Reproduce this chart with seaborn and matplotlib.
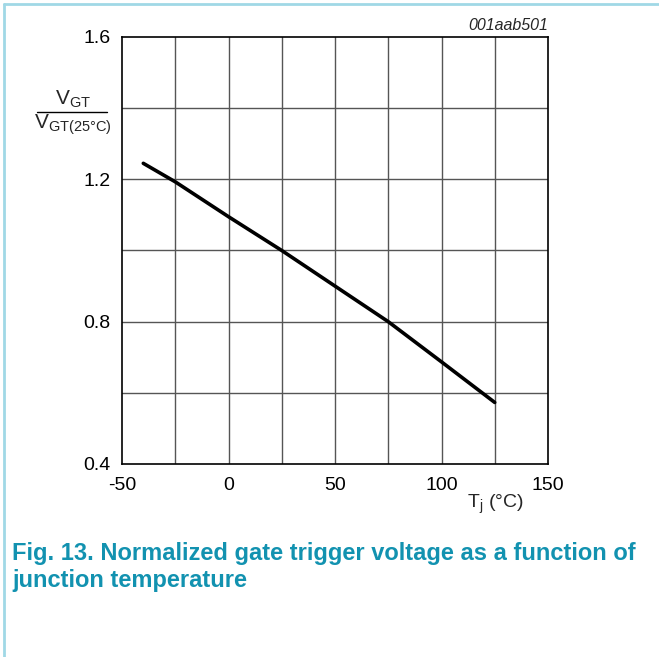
import matplotlib
matplotlib.use("Agg")
import matplotlib.pyplot as plt
import seaborn as sns
import pandas as pd
from matplotlib.lines import Line2D

# Data
tj = [-40, -25, 0, 25, 50, 75, 100, 125]
vgt_ratio = [1.245, 1.193, 1.095, 1.0, 0.9, 0.8, 0.687, 0.573]
x_ticks = [-50, 0, 50, 100, 150]
y_ticks = [0.4, 0.8, 1.2, 1.6]
x_grid = [-50, -25, 0, 25, 50, 75, 100, 125, 150]
y_grid = [0.4, 0.6, 0.8, 1.0, 1.2, 1.4, 1.6]

sns.set_theme(style="white")
plt.rcParams['font.family'] = ['Liberation Sans', 'DejaVu Sans']
plt.rcParams['mathtext.fontset'] = 'custom'
plt.rcParams['mathtext.rm'] = 'Liberation Sans'

df = pd.DataFrame({"Tj": tj, "ratio": vgt_ratio})

fig = plt.figure(figsize=(6.59, 6.57), dpi=100)
ax = fig.add_axes([122/659, 1-464/657, 426/659, 427/657])

for gx in x_grid[1:-1]:
    ax.axvline(gx, color="#555555", lw=1.0, zorder=1)
for gy in y_grid[1:-1]:
    ax.axhline(gy, color="#555555", lw=1.0, zorder=1)

sns.lineplot(data=df, x="Tj", y="ratio", ax=ax, color="black", lw=2.6, zorder=3)

ax.set_xlim(-50, 150)
ax.set_ylim(0.4, 1.6)
ax.set_xticks(x_ticks)
ax.set_yticks(y_ticks)
ax.set_xticklabels([str(v) for v in x_ticks])
ax.set_yticklabels([f"{v:.1f}" for v in y_ticks])
ax.tick_params(axis="both", length=0, labelsize=14, colors="black")
ax.tick_params(axis="x", pad=9)
ax.tick_params(axis="y", pad=8.5)
ax.set_xlabel("")
ax.set_ylabel("")
for s in ax.spines.values():
    s.set_visible(True)
    s.set_color("black")
    s.set_linewidth(1.2)

# y-axis label as fraction
fig.text(73/659, 1-99/657, r"V$_{\mathregular{GT}}$", ha="center", va="center", fontsize=15)
fig.text(73/659, 1-125/657, r"V$_{\mathregular{GT(25°C)}}$", ha="center", va="center", fontsize=15)
fig.add_artist(Line2D([37/659, 107/659], [1-112/657, 1-112/657], color="black", lw=1.0))

# x-axis label
fig.text(495/659, 1-504/657, r"T$_{\mathregular{j}}$ (°C)", ha="center", va="center", fontsize=14)

# code id
fig.text(548/659, 1-25/657, "001aab501", ha="right", va="center", fontsize=11.5, style="italic")

# caption
fig.text(12/659, 1-560/657, "Fig. 13. Normalized gate trigger voltage as a function of",
         ha="left", va="baseline", fontsize=17, fontweight="bold", color="#1292b0")
fig.text(12/659, 1-587/657, "junction temperature",
         ha="left", va="baseline", fontsize=17, fontweight="bold", color="#1292b0")

# border lines
fig.add_artist(Line2D([4/659, 1], [1-4/657, 1-4/657], color="#a0d8e6", lw=2))
fig.add_artist(Line2D([4/659, 4/659], [0, 1-4/657], color="#a0d8e6", lw=2))

fig.savefig("out.png", dpi=100)
